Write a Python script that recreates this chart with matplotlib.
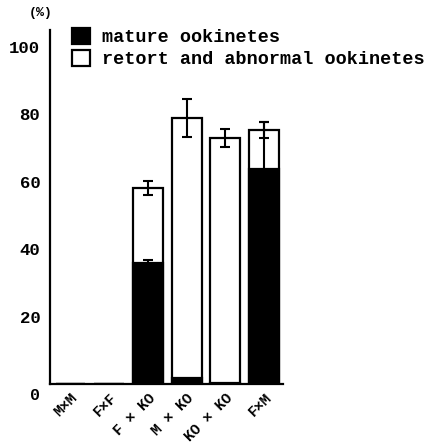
import matplotlib
matplotlib.use("Agg")
import matplotlib.pyplot as plt
from matplotlib.patches import Patch
from matplotlib.transforms import blended_transform_factory

# ---- data ----
categories = ["M×M", "F×F", "F × KO", "M × KO", "KO × KO", "F×M"]
total_pct = [0.0, 0.0, 58.2, 78.9, 73.0, 75.4]        # mature + retort/abnormal
total_err = [0.0, 0.0, 2.0, 5.5, 2.7, 2.4]
mature_pct = [0.0, 0.0, 35.9, 1.8, 0.3, 63.8]
mature_err = [0.0, 0.0, 1.0, 0.0, 0.0, 14.0]
yticks = [20, 40, 60, 80, 100]
legend_labels = ["mature ookinetes", "retort and abnormal ookinetes"]

plt.rcParams['font.family'] = ['Liberation Mono', 'DejaVu Sans Mono']
plt.rcParams['font.weight'] = 'bold'

fig = plt.figure(figsize=(4.28, 4.48), dpi=100)
ax = fig.add_axes([50/428, 1-384/448, (283-50)/428, (384-30)/448])

x = list(range(len(categories)))
w = 0.77
ax.bar(x, total_pct, width=w, color='white', edgecolor='black', linewidth=1.6, zorder=2)
ax.bar(x, mature_pct, width=w, color='black', edgecolor='black', linewidth=1.6, zorder=3)

xe = [i for i in x if total_err[i] > 0]
ax.errorbar(xe, [total_pct[i] for i in xe], yerr=[total_err[i] for i in xe],
            fmt='none', ecolor='black', elinewidth=1.5, capsize=3.5, capthick=1.5, zorder=4)
xm = [i for i in x if mature_err[i] > 0]
ax.errorbar(xm, [mature_pct[i] for i in xm], yerr=[mature_err[i] for i in xm],
            fmt='none', ecolor='black', elinewidth=1.5, capsize=3.5, capthick=1.5, zorder=4)

ax.set_xlim(-0.53, 5.49)
ax.set_ylim(0, 105)
ax.spines['top'].set_visible(False)
ax.spines['right'].set_visible(False)
ax.spines['left'].set_linewidth(1.6)
ax.spines['bottom'].set_linewidth(1.6)

ax.set_yticks(yticks)
ax.set_yticklabels([str(v) for v in yticks], fontsize=12.5, fontweight='bold')
ax.tick_params(axis='y', length=0, pad=7)
ax.set_xticks(x)
ax.set_xticklabels(categories, rotation=45, ha='right', rotation_mode='anchor',
                   fontsize=10.5, fontweight='bold')
ax.tick_params(axis='x', length=0, pad=5)

trans = blended_transform_factory(ax.transAxes, ax.transData)
ax.text(-0.065, -3.3, "0", transform=trans, ha='center', va='center', fontsize=12, fontweight='bold')
fig.text(41/428, 1-13/448, "(%)", ha='center', va='center', fontsize=9.5, fontweight='bold')

handles = [Patch(facecolor='black', edgecolor='black', linewidth=1.6),
           Patch(facecolor='white', edgecolor='black', linewidth=1.6)]
fig.legend(handles, legend_labels, loc='upper left', bbox_to_anchor=(72/428, 1-28/448),
           frameon=False, prop={'size': 13.3, 'weight': 'bold'}, handlelength=0.95, handleheight=0.95,
           handletextpad=0.65, labelspacing=0.2, borderpad=0, borderaxespad=0)

fig.savefig("out.png", dpi=100)
